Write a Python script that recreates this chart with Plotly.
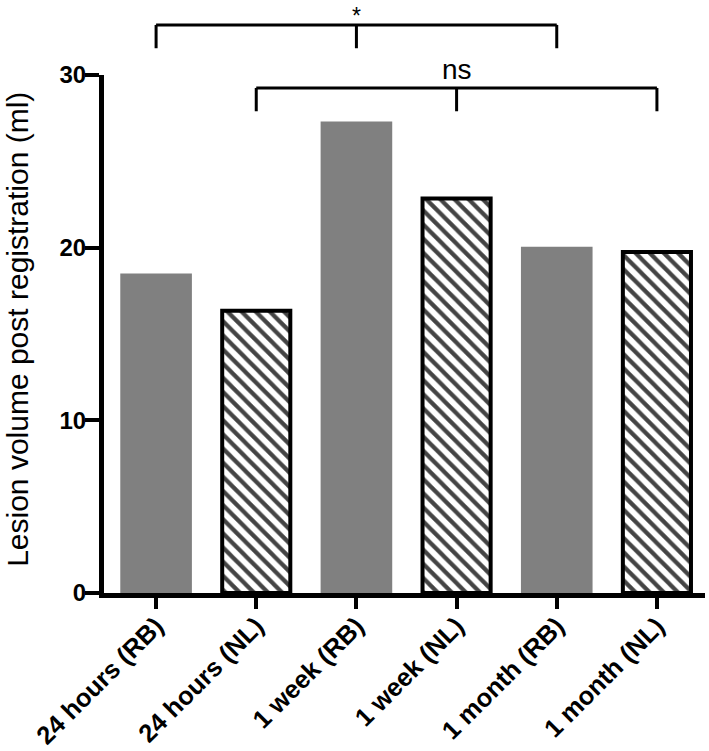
import plotly.graph_objects as go

categories = ["24 hours (RB)", "24 hours (NL)", "1 week (RB)", "1 week (NL)", "1 month (RB)", "1 month (NL)"]
values = [18.5, 16.35, 27.3, 22.85, 20.05, 19.75]
hatched = [False, True, False, True, False, True]
yticks = [0, 10, 20, 30]

# significance brackets: (start index, end index, label)
brackets = [(0, 4, "*"), (1, 5, "ns")]
bracket_levels = [32.9, 29.25]   # in data units (y)
bracket_drop = 1.35

YMAX = 30
PLOT_H = 518
TOP_MARGIN = 75
FONT = "Liberation Sans, Arial, sans-serif"

fig = go.Figure()
fig.add_trace(go.Bar(
    x=categories,
    y=values,
    width=[0.68 if h else 0.715 for h in hatched],
    marker=dict(
        color=["white" if h else "#808080" for h in hatched],
        line=dict(color=["black" if h else "#808080" for h in hatched],
                  width=[4 if h else 0 for h in hatched]),
        pattern=dict(shape=["\\" if h else "" for h in hatched],
                     fgcolor="#000000", bgcolor="#ffffff", fgopacity=1,
                     size=10, solidity=0.42),
    ),
    showlegend=False,
))

shapes = []
annotations = []
for (i0, i1, lab), lev in zip(brackets, bracket_levels):
    top = lev / YMAX
    bot = (lev - bracket_drop) / YMAX
    mid = (i0 + i1) / 2
    ln = dict(color="black", width=3)
    shapes.append(dict(type="line", xref="x", yref="paper", x0=i0, x1=i1, y0=top, y1=top, line=ln))
    for xi in (i0, mid, i1):
        shapes.append(dict(type="line", xref="x", yref="paper", x0=xi, x1=xi, y0=top, y1=bot, line=ln))
    if lab == "*":
        annotations.append(dict(x=mid, xref="x", y=1 + (TOP_MARGIN - 1) / PLOT_H, yref="paper",
                                text=lab, showarrow=False, yanchor="top", xanchor="center",
                                font=dict(family=FONT, size=23, color="black")))
    else:
        annotations.append(dict(x=mid, xref="x", y=top + 0.002, yref="paper",
                                text=lab, showarrow=False, yanchor="bottom", xanchor="center",
                                font=dict(family=FONT, size=28, color="black")))

annotations.append(dict(text="Lesion volume post registration (ml)", textangle=-90,
                        xref="paper", yref="paper", x=-86 / 601, y=0.508,
                        xanchor="center", yanchor="middle", showarrow=False,
                        font=dict(family=FONT, size=30, color="black")))

fig.update_layout(
    width=709, height=751,
    margin=dict(l=104, r=4, t=TOP_MARGIN, b=158),
    plot_bgcolor="white", paper_bgcolor="white",
    shapes=shapes, annotations=annotations,
    xaxis=dict(
        type="category", range=[-0.52, 5.48], automargin=False,
        showline=True, linecolor="black", linewidth=5,
        ticks="outside", ticklen=11, tickwidth=4, tickcolor="black",
        tickangle=-45, ticklabelstandoff=-8, showgrid=False, zeroline=False,
        tickfont=dict(family=FONT, size=25.5, color="black", weight="bold"),
    ),
    yaxis=dict(
        range=[0, YMAX], tickvals=yticks, automargin=False,
        showline=True, linecolor="black", linewidth=5,
        ticks="outside", ticklen=14, tickwidth=4, tickcolor="black",
        ticklabelstandoff=-6, showgrid=False, zeroline=False,
        tickfont=dict(family=FONT, size=24, color="black", weight="bold"),
    ),
    bargap=0.3,
)

fig.write_html("out.html", config={"displayModeBar": False},
               post_script="document.body.style.margin='0';document.body.style.overflow='hidden';")
